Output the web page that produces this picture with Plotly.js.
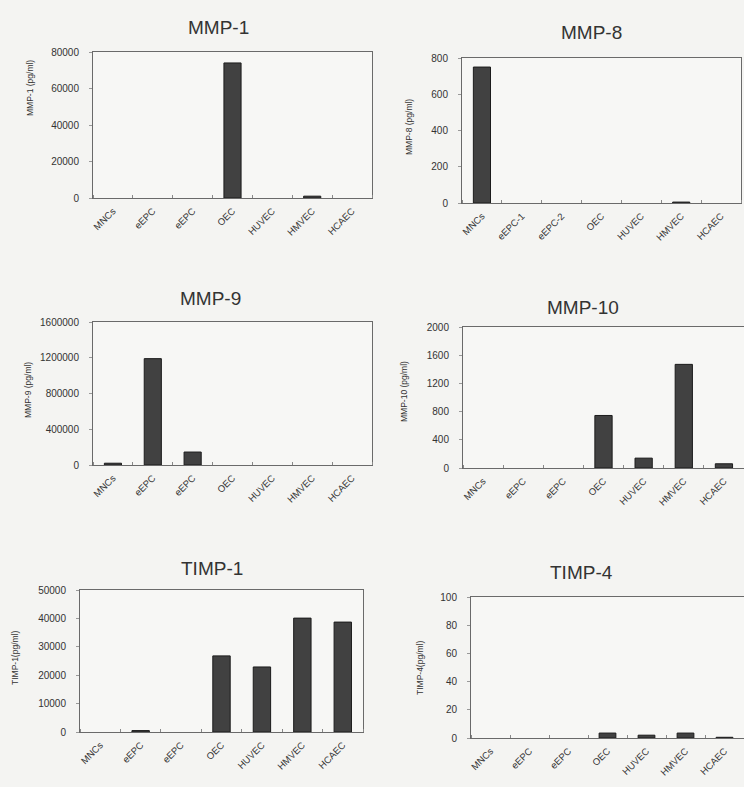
<!DOCTYPE html>
<html>
<head>
<meta charset="utf-8">
<script src="https://cdn.plot.ly/plotly-3.0.1.min.js"></script>
<style>html,body{margin:0;padding:0;background:#f4f4f2;}#chart{width:744px;height:787px;}</style>
</head>
<body>
<div id="chart"></div>
<script>
// ---- data ----
const categories = ['MNCs', 'eEPC', 'eEPC', 'OEC', 'HUVEC', 'HMVEC', 'HCAEC'];
const categoriesMMP8 = ['MNCs', 'eEPC-1', 'eEPC-2', 'OEC', 'HUVEC', 'HMVEC', 'HCAEC'];
const mmp1 = [0, 0, 0, 74000, 0, 1000, 0];
const mmp8 = [750, 0, 0, 0, 0, 5, 0];
const mmp9 = [20000, 1190000, 145000, 0, 0, 0, 0];
const mmp10 = [0, 0, 0, 745, 140, 1470, 60];
const timp1 = [0, 500, 0, 26800, 22900, 40100, 38700];
const timp4 = [0, 0, 0, 3.5, 2, 3.5, 0.5];
const titles = ['MMP-1', 'MMP-8', 'MMP-9', 'MMP-10', 'TIMP-1', 'TIMP-4'];
const yTitles = ['MMP-1 (pg/ml)', 'MMP-8 (pg/ml)', 'MMP-9 (pg/ml)', 'MMP-10 (pg/ml)', 'TIMP-1(pg/ml)', 'TIMP-4(pg/ml)'];
const yMax = [80000, 800, 1600000, 2000, 50000, 100];
const yStep = [20000, 200, 400000, 400, 10000, 20];

// ---- layout geometry (pixels) ----
const W = 744, H = 787;
const panels = [
  {vals: mmp1,  cats: categories,     box: [93, 372, 52, 198],  title: [218, 27],  ytitle: [30, 88]},
  {vals: mmp8,  cats: categoriesMMP8, box: [462, 741, 58, 203], title: [591, 33],  ytitle: [409, 127]},
  {vals: mmp9,  cats: categories,     box: [93, 372, 322, 465], title: [210, 298], ytitle: [28, 390]},
  {vals: mmp10, cats: categories,     box: [463, 744, 327, 468], title: [583, 307], ytitle: [404, 392]},
  {vals: timp1, cats: categories,     box: [80, 363, 590, 732], title: [212, 568], ytitle: [15, 658]},
  {vals: timp4, cats: categories,     box: [471, 744, 597, 738], title: [581, 572], ytitle: [420, 668]}
];

const font = 'Liberation Sans, Arial, sans-serif';
const traces = [];
const layout = {
  width: W, height: H,
  margin: {l: 0, r: 0, t: 0, b: 0},
  paper_bgcolor: '#f4f4f2',
  plot_bgcolor: '#f7f7f5',
  showlegend: false,
  font: {family: font, color: '#333'},
  annotations: []
};

panels.forEach((p, i) => {
  const n = i === 0 ? '' : String(i + 1);
  const idx = p.cats.map((_, k) => k);
  traces.push({
    type: 'bar',
    x: idx,
    y: p.vals,
    xaxis: 'x' + n,
    yaxis: 'y' + n,
    width: 0.43,
    marker: {color: '#414141', line: {color: '#1c1c1c', width: p.vals.map(v => v > 0 ? 1 : 0)}},
    hoverinfo: 'y'
  });
  const [x0, x1, y0, y1] = p.box;
  layout['xaxis' + n] = {
    domain: [x0 / W, Math.min(x1 / W, 1)],
    anchor: 'y' + n,
    range: [-0.5, 6.5],
    tickmode: 'array',
    tickvals: idx,
    ticktext: p.cats,
    tickangle: -45,
    ticks: '',
    ticklabelstandoff: 3,
    tickfont: {size: 9.5, color: '#333'},
    showline: true, mirror: true, linecolor: '#6a6a6a', linewidth: 1,
    showgrid: false, zeroline: false, fixedrange: true,
    minor: {tick0: 0.5, dtick: 1, ticks: 'inside', ticklen: 3, tickcolor: '#888', showgrid: false}
  };
  layout['yaxis' + n] = {
    domain: [1 - y1 / H, 1 - y0 / H],
    anchor: 'x' + n,
    range: [0, yMax[i]],
    dtick: yStep[i],
    tick0: 0,
    tickformat: 'd',
    exponentformat: 'none',
    ticks: 'outside', ticklen: 3, tickcolor: '#999',
    ticklabelstandoff: 8,
    tickfont: {size: 10, color: '#333'},
    showline: true, mirror: true, linecolor: '#6a6a6a', linewidth: 1,
    showgrid: false, zeroline: false, fixedrange: true
  };
  layout.annotations.push({
    text: titles[i], xref: 'paper', yref: 'paper',
    x: p.title[0] / W, y: 1 - p.title[1] / H,
    xanchor: 'center', yanchor: 'middle', showarrow: false,
    font: {size: 19, family: font, color: '#333'}
  });
  layout.annotations.push({
    text: yTitles[i], xref: 'paper', yref: 'paper',
    x: p.ytitle[0] / W, y: 1 - p.ytitle[1] / H,
    xanchor: 'center', yanchor: 'middle', showarrow: false, textangle: -90,
    font: {size: 8.5, family: font, color: '#333'}
  });
});

Plotly.newPlot('chart', traces, layout, {staticPlot: true});
</script>
</body>
</html>
